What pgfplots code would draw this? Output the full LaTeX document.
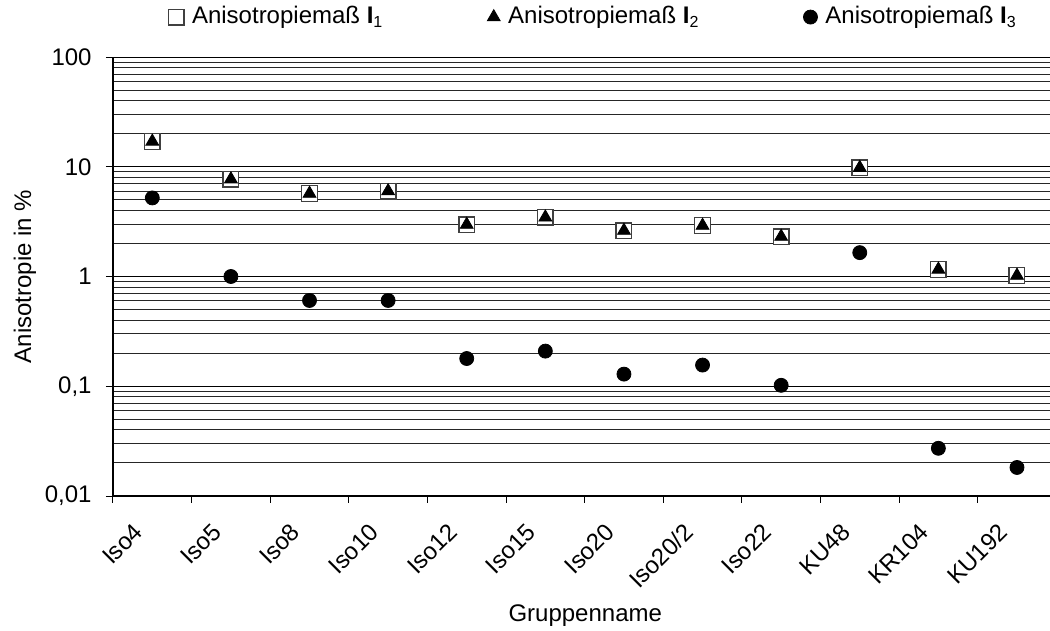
\documentclass[border=0pt]{standalone}
\usepackage{fontspec}
\setmainfont{Liberation Sans}
\usepackage{pgfplots}
\pgfplotsset{compat=1.18}
\usepackage{pgfplotstable}

\pgfplotstableread{
x I1 I2 I3
0 17.0 17.0 5.2
1 7.7 7.7 1.0
2 5.7 5.7 0.605
3 6.0 6.0 0.605
4 2.97 2.97 0.179
5 3.46 3.46 0.209
6 2.62 2.62 0.129
7 2.91 2.91 0.156
8 2.31 2.31 0.102
9 9.8 9.8 1.65
10 1.16 1.16 0.0272
11 1.02 1.02 0.0182
}\datatable

\begin{document}
\fontsize{12}{14.4}\selectfont
\begin{tikzpicture}
\path[use as bounding box] (-56.5pt,-67.5pt) rectangle (468.5pt,248pt);
\begin{axis}[
  scale only axis,
  width=468.5pt, height=219.5pt,
  ymode=log,
  xmin=-0.5, xmax=11.42,
  ymin=0.01, ymax=100,
  axis x line*=bottom, axis y line*=left,
  axis line style={black, line width=0.6pt},
  tick align=outside,
  xtick={0,...,11},
  xticklabels={Iso4,Iso5,Iso8,Iso10,Iso12,Iso15,Iso20,Iso20/2,Iso22,KU48,KR104,KU192},
  minor xtick={-0.5,0.5,...,10.5},
  major x tick style={draw=none},
  minor x tick style={draw=black, line width=0.5pt},
  minor y tick style={draw=none},
  major y tick style={draw=black, line width=0.5pt},
  major tick length=3.5pt, minor tick length=3.5pt,
  ytick={0.01,0.1,1,10,100},
  yticklabels={{0,01},{0,1},1,10,100},
  minor ytick={0.02,0.03,0.04,0.05,0.06,0.07,0.08,0.09,0.2,0.3,0.4,0.5,0.6,0.7,0.8,0.9,2,3,4,5,6,7,8,9,20,30,40,50,60,70,80,90},
  ymajorgrids, yminorgrids,
  major grid style={black, line width=0.5pt},
  minor grid style={black!85, line width=0.5pt},
  xticklabel style={xshift=-4pt, yshift=-9.5pt, rotate=45, anchor=east},
  yticklabel style={xshift=-3pt},
  xlabel={Gruppenname},
  ylabel={Anisotropie in \%},
  xlabel style={at={(axis description cs:0.504,0)}, anchor=center, yshift=-60pt},
  ylabel style={at={(axis description cs:-0.094,0.5)}, anchor=center},
  legend style={at={(0.514,1.091)}, anchor=center, draw=none, fill=none,
    legend columns=3, /tikz/every even column/.append style={column sep=50pt},
    legend cell align=left},
  clip=false,
]
\addplot[only marks, mark=square*, mark size=3.9pt, mark options={draw=black!75, fill=white, line width=0.7pt}] table[x=x, y=I1] {\datatable};
\addlegendentry{\,Anisotropiemaß \textbf{I}\textsubscript{1}}
\addplot[only marks, mark=triangle*, mark size=3.7pt, mark options={fill=black, draw=black}] table[x=x, y=I2] {\datatable};
\addlegendentry{\,Anisotropiemaß \textbf{I}\textsubscript{2}}
\addplot[only marks, mark=*, mark size=3.5pt, mark options={fill=black, draw=black}] table[x=x, y=I3] {\datatable};
\addlegendentry{\,Anisotropiemaß \textbf{I}\textsubscript{3}}
\end{axis}
\end{tikzpicture}
\end{document}
